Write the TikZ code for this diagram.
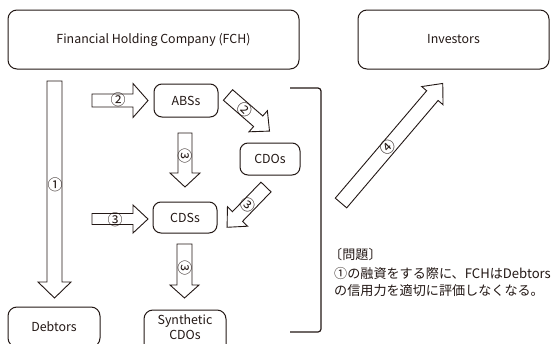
\documentclass[tikz,border=0pt]{standalone}
\usepackage{fontspec}
\setmainfont{Noto Sans CJK JP}
\usetikzlibrary{calc}
\definecolor{ink}{RGB}{35,24,21}
\tikzset{
  box/.style={draw=ink, line width=1pt, rounded corners=9pt, align=center, text=ink,
    font=\fontsize{12.4}{14}\selectfont, inner sep=0pt},
  barrow/.style={draw=ink, line width=0.9pt, fill=white, line join=miter},
  num/.style={font=\fontsize{15}{15}\selectfont, text=ink, inner sep=0pt},
  jtext/.style={font=\fontsize{13.1}{15}\selectfont, text=ink, anchor=west, inner sep=0pt},
  bracket/.style={draw=ink, line width=1.2pt, rounded corners=3pt},
}
% #1 tail, #2 angle, #3 length, #4 half shaft, #5 half head, #6 head length
\newcommand{\blockarrow}[6]{%
  \begin{scope}[shift={#1}, rotate=#2]
    \draw[barrow] (0,-#4) -- ({#3-#6},-#4) -- ({#3-#6},-#5) -- (#3,0)
      -- ({#3-#6},#5) -- ({#3-#6},#4) -- (0,#4) -- cycle;
  \end{scope}}
\begin{document}
\begin{tikzpicture}[x=1pt,y=-1pt]
\useasboundingbox (0,0) rectangle (552,343);
\clip (0,0) rectangle (552,343);
\fill[white] (0,0) rectangle (552,343);

% boxes
\node[box, minimum width=291pt, minimum height=59pt] (fch) at (153.5,39.5) {Financial Holding Company (FCH)};
\node[box, minimum width=191pt, minimum height=59pt] (inv) at (453.5,39.5) {Investors};
\node[box, rounded corners=8pt, minimum width=64pt, minimum height=33pt] (abs) at (186,100.5) {ABSs};
\node[box, rounded corners=8pt, minimum width=60pt, minimum height=32pt] (cdo) at (270,159) {CDOs};
\node[box, rounded corners=8pt, minimum width=64pt, minimum height=31pt] (cds) at (185,217.5) {CDSs};
\node[box, minimum width=92pt, minimum height=40pt] (deb) at (54,327) {Debtors};
\draw[box] (144,350) -- (144,310) [rounded corners=9pt] -- (226,310) -- (226,350);
\node[align=center, text=ink, font=\fontsize{12.4}{15}\selectfont, inner sep=0pt] (syn) at (185,327.5) {Synthetic\\CDOs};

% block arrows
\blockarrow{(54.5,81)}{-90}{217}{7.5}{16.5}{16}
\blockarrow{(92,100.5)}{0}{56}{6.5}{17}{15}
\blockarrow{(185,133)}{-90}{54}{7}{15}{14}
\blockarrow{(92,219)}{0}{56}{5.5}{14}{15}
\blockarrow{(184.5,244)}{-90}{54}{7.5}{14.5}{13}
\blockarrow{(228,95)}{-41}{55}{7}{14}{15}
\blockarrow{(266,187)}{-134}{56}{7}{14}{15}
\blockarrow{(341,203)}{49.6}{157}{7.5}{14}{16}

% labels
\node[num] (l1) at (55,185) {①};
\node[num] (l2a) at (118,100) {②};
\node[num, rotate=-45] (l2b) at (245,110) {②};
\node[num, rotate=-90] (l3a) at (185,156) {③};
\node[num] (l3b) at (115,219.5) {③};
\node[num, rotate=-40] (l3c) at (248,205) {③};
\node[num, rotate=-90] (l3d) at (185,268) {③};
\node[num, rotate=45] (l4) at (388,147) {④};

% bracket
\draw[bracket] (290,88) -- (321,88) -- (321,332) -- (290,332);

% note
\node[jtext] (q1) at (329,255) {〔問題〕};
\node[jtext] (q2) at (334,274) {①の融資をする際に、FCHはDebtors};
\node[jtext] (q3) at (334,291) {の信用力を適切に評価しなくなる。};
\end{tikzpicture}
\end{document}
